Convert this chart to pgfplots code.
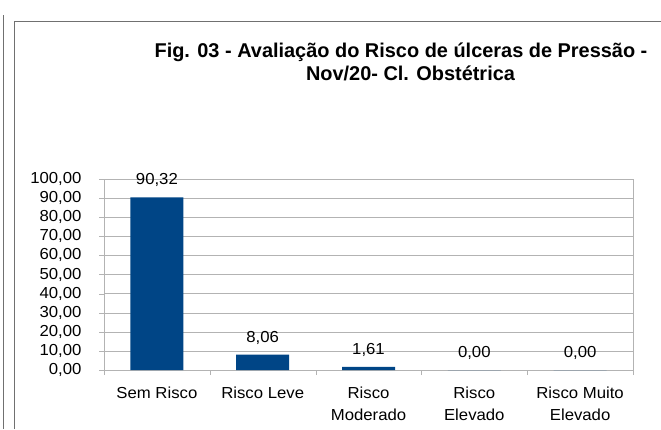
\documentclass[border=0pt]{standalone}
\usepackage{pgfplots}
\pgfplotsset{compat=1.18}
\usepackage{fontspec}
\setmainfont{Liberation Sans}
\newfontfamily\chartfont[FakeStretch=1.05]{Liberation Sans}
\definecolor{barblue}{HTML}{004586}
\definecolor{gridgray}{HTML}{B3B3B3}
\definecolor{framegray}{HTML}{707070}
\begin{document}
\begin{tikzpicture}[x=1bp,y=1bp]
\begin{axis}[
  name=ax,
  anchor=south west, at={(0,0)},
  scale only axis, width=529bp, height=191bp,
  xmin=-0.5, xmax=4.5, ymin=0, ymax=100,
  ytick distance=10,
  xtick={0,1,2,3,4},
  xticklabels={Sem Risco, Risco Leve, Risco\\Moderado, Risco\\Elevado, Risco Muito\\Elevado},
  minor xtick={-0.5,0.5,1.5,2.5,3.5,4.5},
  x tick style={draw=none},
  minor x tick style={draw=gridgray},
  minor tick length=5bp,
  major tick length=5bp,
  y tick style={draw=gridgray},
  tick align=outside,
  tick pos=left,
  axis line style={gridgray},
  ymajorgrids, grid style={gridgray},
  /pgf/number format/assume math mode=true,
  yticklabel style={font=\chartfont\fontsize{16}{16}\selectfont, anchor=east, inner sep=0, xshift=-17.3bp, /pgf/number format/.cd, fixed, fixed zerofill, precision=2, use comma, 1000 sep={}},
  xticklabel style={font=\chartfont\fontsize{16}{21.5}\selectfont, align=center, anchor=north, inner sep=0, yshift=-12bp},
  ybar, bar width=53bp,
  nodes near coords,
  nodes near coords style={font=\chartfont\fontsize{16}{16}\selectfont, anchor=base, inner sep=0, yshift=12.5bp, black, /pgf/number format/.cd, fixed, fixed zerofill, precision=2, use comma, 1000 sep={}},
]
\addplot[fill=barblue, draw=none] coordinates {(0,90.32) (1,8.06) (2,1.61) (3,0) (4,0)};
\end{axis}
\pgfresetboundingbox
\begin{scope}[shift={(ax.south west)}, xshift=-104bp, yshift=-59bp]
\useasboundingbox (0,0) rectangle (661,429);
\fill[framegray] (2.9,0) rectangle (4.1,414);
\draw[framegray, line width=1.5bp] (14.5,0) -- (14.5,407.5) -- (661,407.5);
\node[font=\bfseries\fontsize{20}{24}\selectfont, anchor=base, inner sep=0] at (401,429-57.3) {Fig. 03 - Avaliação do Risco de úlceras de Pressão -};
\node[font=\bfseries\fontsize{20}{24}\selectfont, anchor=base, inner sep=0] at (410.5,429-80) {Nov/20- Cl. Obstétrica};
\end{scope}
\end{tikzpicture}
\end{document}
